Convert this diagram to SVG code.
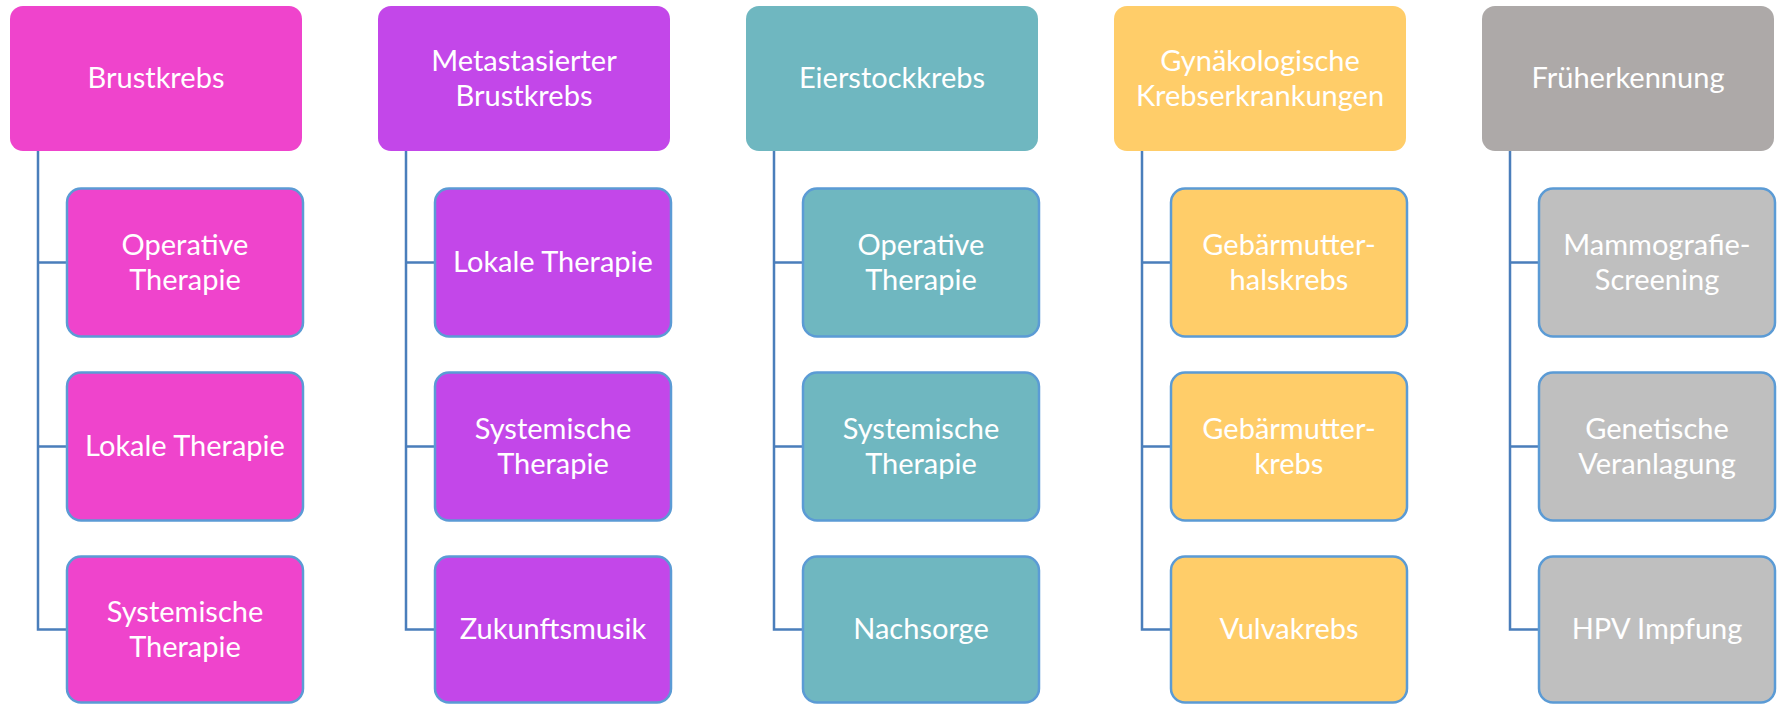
<svg xmlns="http://www.w3.org/2000/svg" width="1783" height="704" viewBox="0 0 1783 704">
<style>
.top{stroke:none}
.ch{stroke:#5B9BD5;stroke-width:2.5}
.t{font-family:Lato,"Open Sans","Liberation Sans",sans-serif;font-size:29px;fill:#FFFFFF;text-anchor:middle}
.conn{fill:none;stroke:#4A7EBB;stroke-width:2.5}
.pink{fill:#EF44CC}.purple{fill:#C347E9}.teal{fill:#6FB7C0}.yellow{fill:#FFCD69}.gray{fill:#ADA9A8}.lgray{fill:#BFBFBF}
</style>
<rect width="1783" height="704" fill="#FFFFFF"/>
<g id="connectors">
<path class="conn" d="M38,151 V629.5 H67 M38,262.5 H67 M38,446.5 H67"/>
<path class="conn" d="M406,151 V629.5 H435 M406,262.5 H435 M406,446.5 H435"/>
<path class="conn" d="M774,151 V629.5 H803 M774,262.5 H803 M774,446.5 H803"/>
<path class="conn" d="M1142,151 V629.5 H1171 M1142,262.5 H1171 M1142,446.5 H1171"/>
<path class="conn" d="M1510,151 V629.5 H1539 M1510,262.5 H1539 M1510,446.5 H1539"/>
</g>
<!-- Column 1 -->
<g id="brustkrebs"><rect class="top pink" x="10" y="6" width="292" height="145" rx="13"/><text class="t" x="156" y="88">Brustkrebs</text></g>
<g id="bk-operative"><rect class="ch pink" x="67" y="188.5" width="236" height="148" rx="14"/><text class="t" x="185" y="254.5">Operative</text><text class="t" x="185" y="289.5">Therapie</text></g>
<g id="bk-lokale"><rect class="ch pink" x="67" y="372.5" width="236" height="148" rx="14"/><text class="t" x="185" y="456">Lokale Therapie</text></g>
<g id="bk-systemische"><rect class="ch pink" x="67" y="556.5" width="236" height="146" rx="14"/><text class="t" x="185" y="621.5">Systemische</text><text class="t" x="185" y="656.5">Therapie</text></g>
<!-- Column 2 -->
<g id="metastasierter"><rect class="top purple" x="378" y="6" width="292" height="145" rx="13"/><text class="t" x="524" y="70.5">Metastasierter</text><text class="t" x="524" y="105.5">Brustkrebs</text></g>
<g id="mb-lokale"><rect class="ch purple" x="435" y="188.5" width="236" height="148" rx="14"/><text class="t" x="553" y="272">Lokale Therapie</text></g>
<g id="mb-systemische"><rect class="ch purple" x="435" y="372.5" width="236" height="148" rx="14"/><text class="t" x="553" y="438.5">Systemische</text><text class="t" x="553" y="473.5">Therapie</text></g>
<g id="mb-zukunft"><rect class="ch purple" x="435" y="556.5" width="236" height="146" rx="14"/><text class="t" x="553" y="639">Zukunftsmusik</text></g>
<!-- Column 3 -->
<g id="eierstockkrebs"><rect class="top teal" x="746" y="6" width="292" height="145" rx="13"/><text class="t" x="892" y="88">Eierstockkrebs</text></g>
<g id="ek-operative"><rect class="ch teal" x="803" y="188.5" width="236" height="148" rx="14"/><text class="t" x="921" y="254.5">Operative</text><text class="t" x="921" y="289.5">Therapie</text></g>
<g id="ek-systemische"><rect class="ch teal" x="803" y="372.5" width="236" height="148" rx="14"/><text class="t" x="921" y="438.5">Systemische</text><text class="t" x="921" y="473.5">Therapie</text></g>
<g id="ek-nachsorge"><rect class="ch teal" x="803" y="556.5" width="236" height="146" rx="14"/><text class="t" x="921" y="639">Nachsorge</text></g>
<!-- Column 4 -->
<g id="gynaekologische"><rect class="top yellow" x="1114" y="6" width="292" height="145" rx="13"/><text class="t" x="1260" y="70.5">Gynäkologische</text><text class="t" x="1260" y="105.5">Krebserkrankungen</text></g>
<g id="gy-hals"><rect class="ch yellow" x="1171" y="188.5" width="236" height="148" rx="14"/><text class="t" x="1289" y="254.5">Gebärmutter-</text><text class="t" x="1289" y="289.5">halskrebs</text></g>
<g id="gy-gebaermutter"><rect class="ch yellow" x="1171" y="372.5" width="236" height="148" rx="14"/><text class="t" x="1289" y="438.5">Gebärmutter-</text><text class="t" x="1289" y="473.5">krebs</text></g>
<g id="gy-vulva"><rect class="ch yellow" x="1171" y="556.5" width="236" height="146" rx="14"/><text class="t" x="1289" y="639">Vulvakrebs</text></g>
<!-- Column 5 -->
<g id="frueherkennung"><rect class="top gray" x="1482" y="6" width="292" height="145" rx="13"/><text class="t" x="1628" y="88">Früherkennung</text></g>
<g id="fe-mammo"><rect class="ch lgray" x="1539" y="188.5" width="236" height="148" rx="14"/><text class="t" x="1657" y="254.5">Mammografie-</text><text class="t" x="1657" y="289.5">Screening</text></g>
<g id="fe-genetisch"><rect class="ch lgray" x="1539" y="372.5" width="236" height="148" rx="14"/><text class="t" x="1657" y="438.5">Genetische</text><text class="t" x="1657" y="473.5">Veranlagung</text></g>
<g id="fe-hpv"><rect class="ch lgray" x="1539" y="556.5" width="236" height="146" rx="14"/><text class="t" x="1657" y="639">HPV Impfung</text></g>
</svg>
